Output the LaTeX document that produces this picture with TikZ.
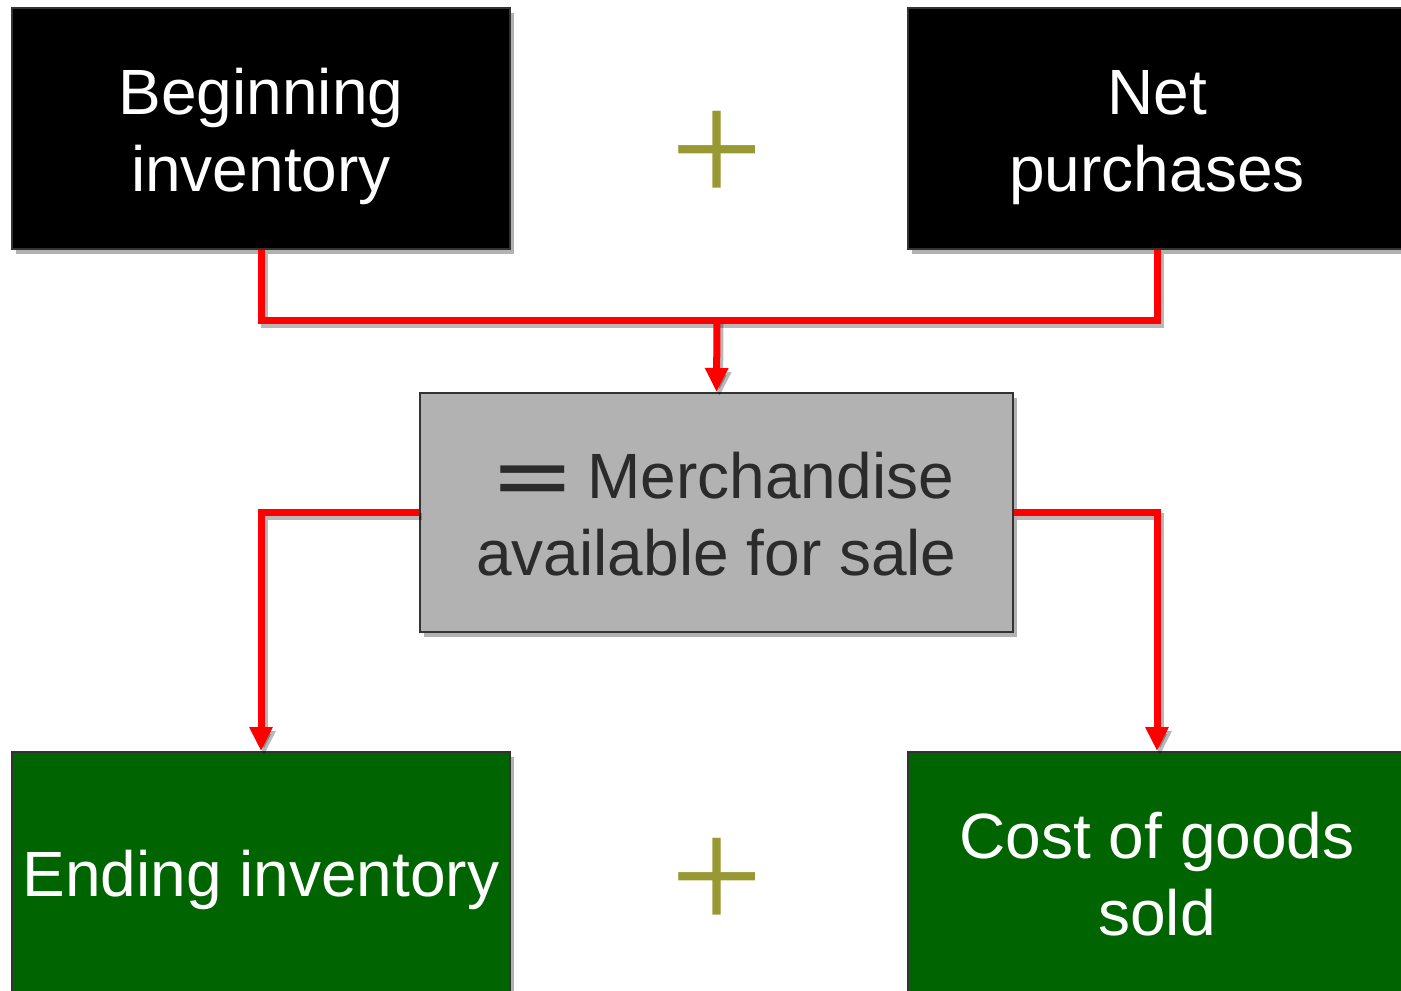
\documentclass[tikz,border=0pt]{standalone}
\usepackage{fontspec}
\setmainfont{Liberation Sans}
\newfontfamily\plusfont{Liberation Serif}
\usetikzlibrary{arrows.meta,shadows}
\definecolor{boxborder}{HTML}{333333}
\definecolor{mergray}{HTML}{B2B2B2}
\definecolor{mertext}{HTML}{2B2B2B}
\definecolor{darkgreen}{HTML}{006400}
\definecolor{olive}{HTML}{999933}
\definecolor{flowred}{HTML}{FF0000}
\newcommand\linestrut{\rule[-14pt]{0pt}{76pt}}
\tikzset{
  box/.style={draw=boxborder, line width=2pt, minimum width=498pt, minimum height=241pt,
    inner sep=0pt, align=center, font=\fontsize{64}{77}\selectfont,
    drop shadow={shadow xshift=4pt, shadow yshift=-5pt, opacity=.3, fill=black}},
  topbox/.style={box, fill=black, text=white},
  endbox/.style={box, fill=darkgreen, text=white},
  merbox/.style={box, fill=mergray, text=mertext, minimum width=593pt, minimum height=239pt},
  flow/.style={draw=flowred, line width=7pt, miter limit=10},
  flowshadow/.style={draw=black, opacity=.28, line width=7pt},
  tip/.style={-{Triangle[width=22pt,length=24pt]}},
  plussign/.style={text=olive, inner sep=0pt, font=\plusfont\fontsize{165}{165}\selectfont}
}
\begin{document}
\begin{tikzpicture}[x=1pt,y=-1pt]
\useasboundingbox (0,0) rectangle (1401,991);
\clip (0,0) rectangle (1401,991);

\node[topbox] (beg) at (261,128.5) {\linestrut Beginning\\\linestrut inventory};
\node[topbox] (net) at (1157,128.5) {\linestrut Net\\\linestrut purchases};
\node[merbox] (mer) at (716.5,512.5) {\hspace*{16pt}\linestrut\raisebox{-3pt}{\fontsize{118}{77}\selectfont\scalebox{1.08}[0.58]{\bfseries =}}\hspace{18pt}Merchandise\\\linestrut available for sale};
\node[endbox] (end) at (261,872.5) {\linestrut Ending inventory};
\node[endbox] (cost) at (1157,872.5) {\linestrut Cost of goods\\\linestrut sold};

\node[plussign] (plus1) at (717,158) {+};
\node[plussign] (plus2) at (717,885) {+};

\coordinate (join) at (717,320);

% shadows of connectors
\begin{scope}[transform canvas={shift={(3pt,-4pt)}}]
\draw[flowshadow] (beg.south) |- (join) -| (net.south);
\draw[flowshadow, tip] (join) -- (mer.north);
\draw[flowshadow, tip] (mer.west) -| (end.north);
\draw[flowshadow, tip] (mer.east) -| (cost.north);
\end{scope}

% connectors
\draw[flow] (beg.south) |- (join) -| (net.south);
\draw[flow, tip] (join) -- (mer.north);
\draw[flow, tip] (mer.west) -| (end.north);
\draw[flow, tip] (mer.east) -| (cost.north);
\end{tikzpicture}
\end{document}
